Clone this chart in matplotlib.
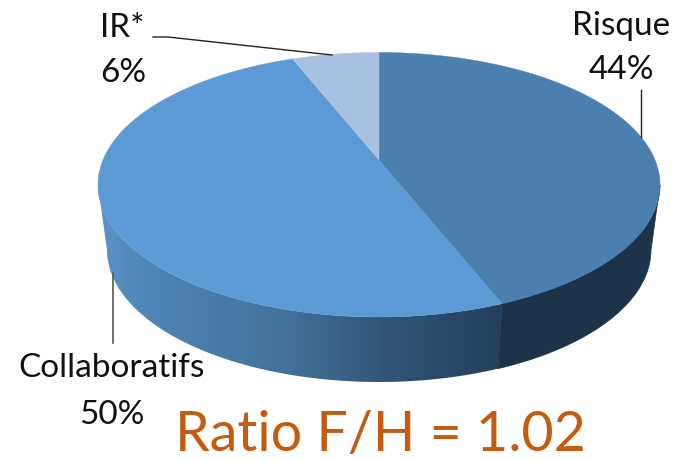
import matplotlib
matplotlib.use('Agg')
import matplotlib.pyplot as plt
import numpy as np
from matplotlib.colors import LinearSegmentedColormap
from matplotlib.patches import Polygon

labels = ['Risque', 'Collaboratifs', 'IR*']
shares = [44, 50, 6]
top_colors = ['#4a7fae', '#5b9ad4', '#a9c1e1']
ratio_text = 'Ratio F/H = 1.02'

plt.rcParams['font.family'] = ['Lato', 'DejaVu Sans']

# pie geometry in picture pixels
apex_x, apex_y = 379, 160
back, front = 107.5, 157
persp = (front - back) / (front + back)
scale_y = back * (1 + persp)
scale_x = 281 * np.sqrt(1 - persp ** 2)
bottom_cx_scale, depth_y = 272 / 281, 65


def rim(t):
    # t in radians, clockwise from the back of the pie
    d = 1 + persp * np.cos(t)
    return apex_x + scale_x * np.sin(t) / d, apex_y - scale_y * np.cos(t) / d


def lower_rim(t):
    x, y = rim(t)
    return apex_x + (x - apex_x) * bottom_cx_scale, y + depth_y


fig = plt.figure(figsize=(6.76, 4.61), dpi=100)
ax = fig.add_axes([0, 0, 1, 1])
ax.axis('off')

edges = 2 * np.pi * np.cumsum([0] + shares) / sum(shares)

# side wall, left part is a horizontal gradient
t_seam = edges[1]
t_wall = np.linspace(t_seam, np.radians(259), 200)
wall_pts = np.r_[np.c_[rim(t_wall)], np.c_[lower_rim(t_wall[::-1])]]
wall_cmap = LinearSegmentedColormap.from_list(
    'wall', [(0, '#5a93c8'), (0.12, '#4f86b8'), (0.45, '#42729c'), (0.75, '#2f5072'), (1, '#243f5a')])
grad = ax.imshow(np.linspace(0, 1, 256)[None, :], extent=(98, 510, 400, 150), aspect='auto',
                 cmap=wall_cmap, zorder=1)
wall_patch = Polygon(wall_pts, closed=True, fc='none', ec='none', transform=ax.transData)
ax.add_patch(wall_patch)
grad.set_clip_path(wall_patch)
ax.set_xlim(0, 676)
ax.set_ylim(461, 0)

# side wall, right part
t_right = np.linspace(np.radians(101), t_seam, 200)
right_pts = np.r_[np.c_[rim(t_right)], np.c_[lower_rim(t_right[::-1])]]
ax.add_patch(Polygon(right_pts, closed=True, fc='#1c3349', ec='#1c3349', lw=0.5, zorder=2))

# top face
for i in range(len(shares)):
    t = np.linspace(edges[i], edges[i + 1], 200)
    x, y = rim(t)
    pts = np.r_[[[apex_x, apex_y]], np.c_[x, y]]
    ax.add_patch(Polygon(pts, closed=True, fc=top_colors[i], ec=top_colors[i], lw=0.3, zorder=3))

# leader lines
ax.plot([153, 168, 332], [37, 37, 55], color='#222222', lw=1, zorder=4)
ax.plot([640.5, 640.5], [90, 137], color='#222222', lw=1, zorder=4)
ax.plot([113, 113], [273, 343], color='#555555', lw=1.2, zorder=4)

# labels
txt = dict(color='#111111', fontsize=24, ha='center', va='center', zorder=5)
ax.text(621, 26, labels[0], **txt)
ax.text(621, 70, f'{shares[0]}%', **txt)
ax.text(112, 368, labels[1], **txt)
ax.text(112, 415, f'{shares[1]}%', **txt)
ax.text(100, 28, labels[2], **{**txt, 'ha': 'left'})
ax.text(100, 73, f'{shares[2]}%', **{**txt, 'ha': 'left'})
ax.text(380, 435, ratio_text, color='#c55a11', fontsize=40, ha='center', va='center', zorder=5)

fig.savefig('out.png', dpi=100)
